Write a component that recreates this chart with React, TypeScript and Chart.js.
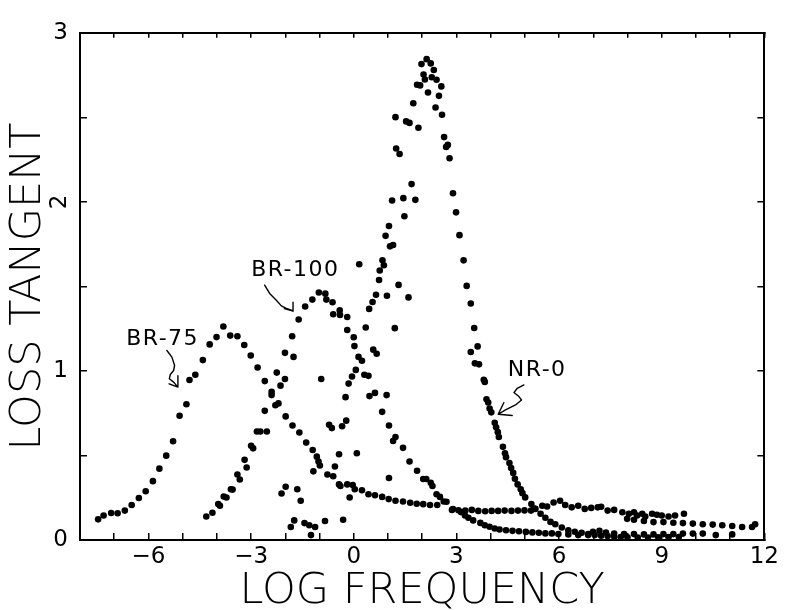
import React, { useEffect, useRef } from 'react';
import { Chart, registerables } from 'chart.js';

Chart.register(...registerables);

// ---------- tick labels ----------
const xTickValues = [-6, -3, 0, 3, 6, 9, 12];
const xTickLabels = ['\u22126', '\u22123', '0', '3', '6', '9', '12'];
const yTickValues = [0, 1, 2, 3];
const yTickLabels = ['0', '1', '2', '3'];

const xTitle = 'LOG FREQUENCY';
const yTitle = 'LOSS TANGENT';
const seriesNames = ['BR-75', 'BR-100', 'NR-0'];

// ---------- series: BR-75 ----------
const br75X = [
  -7.47, -7.31, -7.09, -6.9, -6.69, -6.49, -6.28, -6.08, -5.87, -5.68, -5.48, -5.28, -5.09, -4.89, -4.8, -4.63,
  -4.41, -4.21, -4.01, -3.81, -3.61, -3.4, -3.2, -3.01, -2.81, -2.6, -2.4, -2.4, -2.29, -2.2, -1.99, -1.79,
  -1.59, -1.39, -1.2, -1.08, -1.03, -0.77, -0.6, -0.43, -0.39, -0.19, -0.03, 0.03, 0.24, 0.43, 0.62, 0.83,
  1.02, 1.22, 1.44, 1.65, 1.84, 2.03, 2.23, 2.44, 2.87, 3.06, 3.26, 3.45, 3.64, 3.84, 4.03, 4.22,
  4.41, 4.61, 4.8, 4.99, 5.18, 5.27, 5.51, 5.65, 5.84, 6.03, 6.18, 6.37, 6.56, 6.75, 6.94, 7.13,
  7.23, 7.42, 7.61, 7.85, 8.04, 8.19, 8.28, 8.43, 8.52, 8.72, 8.86, 9.0, 9.2, 9.39, 9.65,
];
const br75Y = [
  0.122, 0.145, 0.16, 0.158, 0.174, 0.207, 0.248, 0.288, 0.348, 0.422, 0.499, 0.584, 0.735, 0.803, 0.946, 0.977,
  1.064, 1.157, 1.2, 1.263, 1.209, 1.205, 1.153, 1.091, 1.02, 0.94, 0.876, 0.857, 0.797, 0.808, 0.731, 0.677,
  0.636, 0.576, 0.532, 0.493, 0.464, 0.387, 0.377, 0.329, 0.319, 0.329, 0.325, 0.3, 0.294, 0.271, 0.265, 0.255,
  0.242, 0.232, 0.228, 0.22, 0.214, 0.212, 0.207, 0.207, 0.178, 0.176, 0.174, 0.178, 0.172, 0.17, 0.172, 0.172,
  0.174, 0.172, 0.174, 0.175, 0.174, 0.186, 0.203, 0.198, 0.222, 0.232, 0.207, 0.193, 0.203, 0.184, 0.19, 0.193,
  0.197, 0.174, 0.178, 0.164, 0.155, 0.164, 0.145, 0.155, 0.139, 0.155, 0.149, 0.145, 0.139, 0.145, 0.155,
];

// ---------- series: BR-100 ----------
const br100X = [
  -4.31, -4.13, -3.96, -3.91, -3.8, -3.72, -3.59, -3.54, -3.4, -3.33, -3.19, -3.13, -3.0, -2.94, -2.83, -2.73,
  -2.54, -2.6, -2.25, -2.14, -2.01, -2.01, -1.76, -1.8, -1.61, -1.42, -1.21, -1.02, -0.83, -0.8, -0.62, -0.6,
  -0.41, -0.4, -0.19, -0.19, 0.0, 0.02, 0.14, 0.24, 0.31, 0.43, 0.46, 0.62, 0.83, 1.03, 1.15, 1.22,
  1.44, 1.63, 1.85, 2.03, 2.12, 2.25, 2.3, 2.42, 2.52, 2.63, 2.71, 2.9, 3.13, 3.25, 3.35, 3.49,
  3.7, 3.83, 3.97, 4.12, 4.26, 4.45, 4.64, 4.83, 5.03, 5.22, 5.41, 5.6, 5.79, 5.98, 6.27, 6.56,
  6.85, 6.99, 7.18, 7.37, 7.61, 7.9, 8.19, 8.48, 8.76, 9.05, 9.34, 9.62, 9.91, 10.2, 10.58, 11.06,
];
const br100Y = [
  0.139, 0.161, 0.213, 0.203, 0.257, 0.251, 0.3, 0.298, 0.387, 0.358, 0.474, 0.429, 0.557, 0.542, 0.642, 0.642,
  0.642, 0.764, 0.99, 0.913, 0.952, 1.107, 1.083, 1.205, 1.304, 1.381, 1.422, 1.464, 1.457, 1.422, 1.406, 1.335,
  1.358, 1.331, 1.319, 1.242, 1.199, 1.147, 1.083, 1.06, 0.977, 0.971, 0.851, 0.87, 0.758, 0.677, 0.586, 0.609,
  0.545, 0.464, 0.41, 0.361, 0.361, 0.338, 0.319, 0.271, 0.255, 0.228, 0.226, 0.183, 0.165, 0.145, 0.132, 0.116,
  0.101, 0.087, 0.078, 0.068, 0.062, 0.058, 0.054, 0.052, 0.048, 0.045, 0.043, 0.039, 0.039, 0.035, 0.033, 0.029,
  0.029, 0.048, 0.054, 0.044, 0.038, 0.035, 0.035, 0.033, 0.033, 0.035, 0.035, 0.038, 0.038, 0.038, 0.029, 0.033,
];

// ---------- series: NR-0 ----------
const nr0X = [
  -2.11, -1.99, -1.65, -1.55, -1.84, -1.74, -1.44, -1.3, -1.13, -1.25, -0.84, -0.31, -1.18, -0.99, -0.95, -0.72,
  -0.64, -0.34, -0.22, -0.55, -0.43, 0.09, -0.12, -0.24, -0.15, -0.05, 0.06, 0.16, 0.35, 0.57, 0.67, 0.45,
  0.55, 0.65, 0.74, 0.76, 0.84, 0.88, 0.97, 0.96, 1.03, 0.93, 1.03, 1.06, 1.15, 1.12, 1.45, 1.8,
  1.48, 1.2, 1.31, 1.6, 1.22, 1.24, 1.34, 1.53, 1.63, 1.69, 1.74, 1.85, 1.89, 1.94, 1.98, 2.04,
  2.08, 2.13, 2.17, 2.25, 2.28, 2.34, 2.39, 2.42, 2.49, 2.56, 2.58, 2.64, 2.7, 2.75, 2.8, 2.9,
  2.99, 3.09, 3.21, 3.3, 3.42, 3.52, 3.42, 3.62, 3.54, 3.66, 3.8, 3.83, 3.88, 3.93, 3.97, 4.02,
  4.12, 4.16, 4.21, 4.24, 4.36, 4.42, 4.45, 4.55, 4.6, 4.66, 4.71, 4.79, 4.88, 4.93, 5.01, 5.19,
  5.31, 5.46, 5.6, 5.75, 5.89, 6.08, 6.27, 6.46, 6.66, 6.85, 7.04, 7.23, 7.42, 7.61, 7.8, 8.0,
  8.3, 8.6, 8.9, 9.2, 9.5, 7.99, 8.19, 8.48, 8.76, 9.05, 9.34, 9.62, 9.91, 10.2, 10.49, 10.77,
  11.06, 11.35, 11.64, 11.73,
];
const nr0Y = [
  0.275, 0.315, 0.3, 0.232, 0.077, 0.116, 0.1, 0.087, 0.077, 0.029, 0.112, 0.12, 0.406, 0.441, 0.952, 0.681,
  0.662, 0.673, 0.706, 0.435, 0.507, 0.513, 0.251, 0.845, 0.925, 0.967, 1.006, 1.631, 1.257, 1.126, 1.102, 1.367,
  1.408, 1.451, 1.538, 1.594, 1.654, 1.625, 1.445, 0.857, 0.367, 1.799, 1.857, 1.737, 1.745, 2.008, 2.022, 2.012,
  1.915, 1.253, 1.509, 1.435, 2.501, 2.316, 2.283, 2.476, 2.467, 2.105, 2.583, 2.693, 2.438, 2.689, 2.815, 2.753,
  2.724, 2.844, 2.647, 2.819, 2.737, 2.78, 2.558, 2.722, 2.627, 2.683, 2.515, 2.383, 2.325, 2.337, 2.258, 2.051,
  1.938, 1.803, 1.654, 1.503, 1.399, 1.254, 1.112, 1.145, 1.045, 1.039, 0.948, 0.935, 0.832, 0.813, 0.778, 0.755,
  0.693, 0.667, 0.638, 0.609, 0.551, 0.513, 0.49, 0.455, 0.426, 0.397, 0.362, 0.329, 0.3, 0.277, 0.252, 0.213,
  0.184, 0.155, 0.132, 0.107, 0.093, 0.074, 0.058, 0.049, 0.043, 0.035, 0.029, 0.025, 0.023, 0.019, 0.017, 0.016,
  0.015, 0.015, 0.016, 0.017, 0.018, 0.125, 0.12, 0.112, 0.106, 0.106, 0.102, 0.1, 0.097, 0.093, 0.091, 0.087,
  0.083, 0.077, 0.077, 0.093,
];

const FONT = '"DejaVu Sans", "Liberation Sans", sans-serif';

type P = [number, number];
// label anchor (data coords) + arrow drawn as pixel offsets from the label centre
const annotations: { name: number; at: P; path: P[]; arms: P[] }[] = [
  {
    name: 0,
    at: [-5.586, 1.19],
    path: [[4.3, 11.7], [9.3, 18.3], [12, 26.7], [11, 31.7], [7.7, 35.7], [6.7, 40], [11, 43.3], [15.3, 48.3]],
    arms: [[6.5, 45], [15.3, 37]],
  },
  {
    name: 1,
    at: [-1.707, 1.596],
    path: [[-30.7, 15], [-25.7, 23.3], [-19, 30], [-14, 35.7], [-9, 38.3], [-4, 40], [-2.3, 41]],
    arms: [[-2.3, 32], [-11, 38.5]],
  },
  {
    name: 2,
    at: [5.362, 1.004],
    path: [[-13.3, 14.7], [-20, 18], [-23.3, 22.3], [-18.3, 26.3], [-15.7, 29.7], [-21.7, 34.7], [-31.7, 39.7], [-39, 44]],
    arms: [[-25, 45.3], [-33.3, 32.3]],
  },
];

const decorPlugin = {
  id: 'decor',
  afterDraw(chart: any) {
    const { ctx, scales } = chart;
    const xs = scales.x;
    const ys = scales.y;
    ctx.save();
    ctx.fillStyle = '#000';
    ctx.strokeStyle = '#000';
    // rotated "2" tick label on the y axis
    const i2 = yTickValues.indexOf(2);
    ctx.save();
    ctx.font = `23px ${FONT}`;
    ctx.translate(xs.left - 20, ys.getPixelForValue(2));
    ctx.rotate(-Math.PI / 2);
    ctx.textAlign = 'center';
    ctx.textBaseline = 'middle';
    ctx.fillText(yTickLabels[i2], 0, 0);
    ctx.restore();

    // series labels and arrows
    ctx.font = `22px ${FONT}`;
    (ctx as any).letterSpacing = '1.5px';
    ctx.textAlign = 'center';
    ctx.textBaseline = 'middle';
    ctx.lineWidth = 1.4;
    ctx.lineJoin = 'round';
    ctx.lineCap = 'round';
    for (const a of annotations) {
      const cx = xs.getPixelForValue(a.at[0]);
      const cy = ys.getPixelForValue(a.at[1]);
      ctx.fillText(seriesNames[a.name], cx, cy);
      ctx.beginPath();
      a.path.forEach((p, k) => {
        if (k === 0) ctx.moveTo(cx + p[0], cy + p[1]);
        else ctx.lineTo(cx + p[0], cy + p[1]);
      });
      const tip = a.path[a.path.length - 1];
      for (const arm of a.arms) {
        ctx.moveTo(cx + tip[0], cy + tip[1]);
        ctx.lineTo(cx + arm[0], cy + arm[1]);
      }
      ctx.stroke();
    }
    ctx.restore();
  },
};

function xLabel(v: any) {
  const i = xTickValues.indexOf(Number(v));
  return i >= 0 ? xTickLabels[i] : '';
}
function yLabel(v: any) {
  const n = Number(v);
  if (n === 2) return '';
  const i = yTickValues.indexOf(n);
  return i >= 0 ? yTickLabels[i] : '';
}

export default function App() {
  const ref = useRef<HTMLCanvasElement>(null);
  useEffect(() => {
    const canvas = ref.current;
    if (!canvas) return;
    const mk = (xv: number[], yv: number[]) => xv.map((x, i) => ({ x, y: yv[i] }));
    const dot = {
      backgroundColor: '#000',
      borderColor: '#000',
      borderWidth: 0,
      pointRadius: 3.3,
      pointHoverRadius: 3.3,
      showLine: false,
    };
    const grid = {
      display: true,
      drawOnChartArea: false,
      drawTicks: true,
      tickLength: -7,
      color: '#000',
      lineWidth: 1.5,
    };
    const border = { display: true, color: '#000', width: 2 };
    const chart = new Chart(canvas, {
      type: 'scatter',
      data: {
        datasets: [
          { label: seriesNames[0], data: mk(br75X, br75Y), ...dot },
          { label: seriesNames[1], data: mk(br100X, br100Y), ...dot },
          { label: seriesNames[2], data: mk(nr0X, nr0Y), ...dot },
        ],
      },
      options: {
        animation: false,
        responsive: false,
        events: [],
        layout: { padding: { top: 23, right: 13, bottom: 0, left: 0 } },
        plugins: { legend: { display: false }, tooltip: { enabled: false } },
        scales: {
          x: {
            type: 'linear',
            position: 'bottom',
            min: -8,
            max: 12,
            grid,
            border,
            ticks: {
              stepSize: 1,
              autoSkip: false,
              maxRotation: 0,
              padding: 10,
              color: '#000',
              font: { family: FONT, size: 23 },
              callback: xLabel,
            },
            title: {
              display: true,
              text: xTitle,
              color: '#000',
              font: { family: FONT, size: 43, weight: '200', lineHeight: 0.86 },
              padding: { top: 0, bottom: 0 },
            },
            afterFit: (s: any) => {
              s.height = 70;
            },
          },
          x2: {
            type: 'linear',
            position: 'top',
            min: -8,
            max: 12,
            grid: { ...grid, tickLength: -5 },
            border,
            ticks: { stepSize: 1, autoSkip: false, display: false },
            afterFit: (s: any) => {
              s.height = 0;
            },
          },
          y: {
            type: 'linear',
            position: 'left',
            min: 0,
            max: 3,
            grid,
            border,
            ticks: {
              stepSize: 0.5,
              autoSkip: false,
              padding: 19,
              color: '#000',
              font: { family: FONT, size: 23 },
              callback: yLabel,
            },
            title: {
              display: true,
              text: yTitle,
              color: '#000',
              font: { family: FONT, size: 43, weight: '200', lineHeight: 0.86 },
              padding: { top: 10, bottom: 0 },
            },
            afterFit: (s: any) => {
              s.width = 80;
            },
          },
          y2: {
            type: 'linear',
            position: 'right',
            min: 0,
            max: 3,
            grid,
            border,
            ticks: { stepSize: 0.5, autoSkip: false, display: false },
            afterFit: (s: any) => {
              s.width = 0;
            },
          },
        },
      } as any,
      plugins: [decorPlugin],
    });
    return () => chart.destroy();
  }, []);

  return (
    <div style={{ position: 'fixed', left: 0, top: 0, width: 789, height: 610, background: '#fff' }}>
      <canvas ref={ref} width={789} height={610} style={{ display: 'block' }} />
    </div>
  );
}
